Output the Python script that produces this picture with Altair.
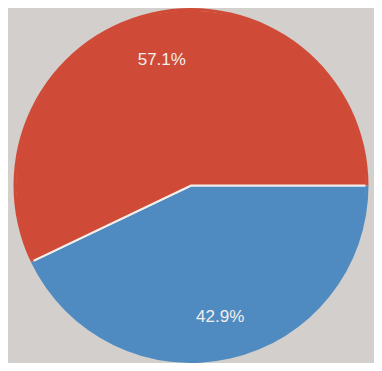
import math
import altair as alt
import pandas as pd

categories = ["Blue", "Red"]
values = [42.9, 57.1]
labels = ["42.9%", "57.1%"]
order = [0, 1]
colors = ["#4F8AC0", "#CF4B37"]

df = pd.DataFrame({"cat": categories, "value": values, "label": labels, "ord": order})

theta = alt.Theta("value:Q", stack=True, scale=alt.Scale(range=[math.pi / 2, math.pi / 2 + 2 * math.pi]))
color = alt.Color("cat:N", scale=alt.Scale(domain=categories, range=colors), legend=None)

base = alt.Chart(df).encode(theta=theta, order=alt.Order("ord:Q"))

pie = base.mark_arc(outerRadius=176, stroke="#F4EEEA", strokeWidth=2).encode(color=color)
rim = base.mark_arc(innerRadius=174.5, outerRadius=177.5).encode(color=color)

text = base.mark_text(radius=132, dy=3, fontSize=17, font="Liberation Sans", color="#F2EEEE").encode(
    text="label:N"
)

chart = (pie + rim + text).properties(
    width=366, height=355, background="#D3CFCC", padding=0,
    autosize=alt.AutoSizeParams(type="fit", contains="padding"),
).configure_view(stroke=None)

chart.save("out.html", embed_options={"renderer": "svg", "actions": False})
